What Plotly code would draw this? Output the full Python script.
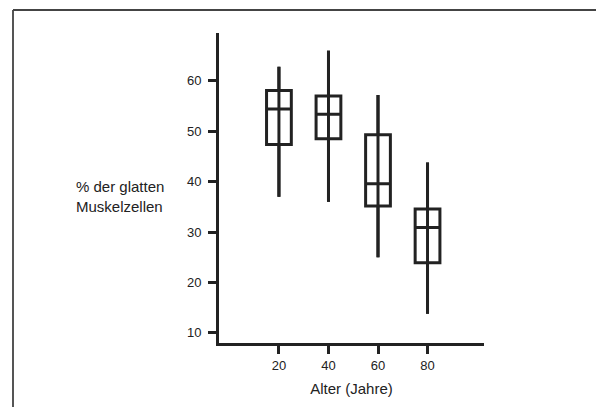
import plotly.graph_objects as go

ages = [20, 40, 60, 80]
whisker_low = [37.0, 36.0, 25.0, 13.8]
q1 = [47.4, 48.5, 35.2, 23.9]
median = [54.4, 53.4, 39.6, 30.9]
q3 = [58.1, 57.0, 49.3, 34.6]
whisker_high = [62.8, 66.0, 57.2, 43.8]

y_ticks = [10, 20, 30, 40, 50, 60]
x_title = "Alter (Jahre)"
y_title = "% der glatten<br>Muskelzellen"

INK = "#222222"
FONT = "Liberation Sans, Arial, sans-serif"

# the page body adds an 8 px offset; figure coordinates below are page - 8
W, H = 596, 399
L, T = 211, 25
PW, PH = 265, 310

def px(xp):
    return (xp - 8 - L) / PW

def py(yp):
    return (T + PH - (yp - 8)) / PH

fig = go.Figure()

for i, a in enumerate(ages):
    fig.add_trace(go.Scatter(
        x=[a, a], y=[whisker_low[i], whisker_high[i]],
        mode="lines", line=dict(color=INK, width=3),
        hoverinfo="skip", showlegend=False,
    ))

fig.add_trace(go.Box(
    x=ages, q1=q1, median=median, q3=q3,
    lowerfence=whisker_low, upperfence=whisker_high,
    width=10, whiskerwidth=0,
    line=dict(color=INK, width=3),
    fillcolor="rgba(0,0,0,0)",
    boxpoints=False, showlegend=False, hoverinfo="skip",
))

fig.update_layout(
    width=W, height=H,
    margin=dict(l=L, r=W - L - PW, t=T, b=H - T - PH, pad=0),
    paper_bgcolor="white", plot_bgcolor="white",
    font=dict(family=FONT, color=INK, size=13),
    showlegend=False,
    xaxis=dict(
        range=[-4.2, 102.8], tickvals=ages, ticktext=[str(a) for a in ages],
        showline=True, linecolor=INK, linewidth=3,
        ticks="outside", ticklen=8, tickwidth=3, tickcolor=INK,
        showgrid=False, zeroline=False,
        tickfont=dict(size=13, color=INK),
        title=dict(text=x_title, font=dict(size=15, color=INK), standoff=12),
        fixedrange=True,
    ),
    yaxis=dict(
        range=[8.0, 69.5], tickvals=y_ticks,
        showline=True, linecolor=INK, linewidth=3,
        ticks="outside", ticklen=8, tickwidth=3, tickcolor=INK,
        ticklabelstandoff=4,
        showgrid=False, zeroline=False,
        tickfont=dict(size=13, color=INK),
        fixedrange=True,
    ),
    annotations=[dict(
        text=y_title, xref="paper", yref="paper",
        x=px(74), y=py(196),
        xanchor="left", yanchor="middle", align="left",
        showarrow=False, font=dict(size=15, color=INK, family=FONT),
    )],
    shapes=[
        dict(type="line", xref="paper", yref="paper",
             x0=px(13), x1=px(13), y0=py(10), y1=py(420),
             line=dict(color="#555555", width=2)),
        dict(type="line", xref="paper", yref="paper",
             x0=px(13), x1=px(610), y0=py(10), y1=py(10),
             line=dict(color="#444444", width=2)),
        dict(type="line", xref="paper", yref="paper",
             x0=px(603), x1=px(603), y0=py(10), y1=py(420),
             line=dict(color="#bbbbbb", width=1)),
    ],
)

fig.write_html("out.html")
